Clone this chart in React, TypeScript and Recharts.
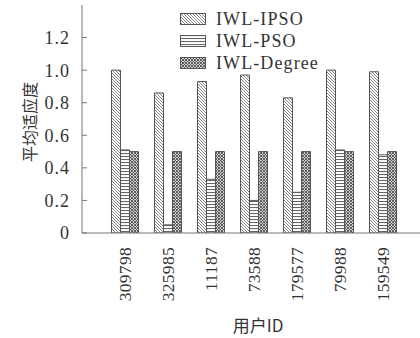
import React from "react";
import { Bar, BarChart, Legend, XAxis, YAxis } from "recharts";

const userIds = ["309798", "325985", "11187", "73588", "179577", "79988", "159549"];
const ipsoValues = [1.0, 0.86, 0.93, 0.97, 0.83, 1.0, 0.99];
const psoValues = [0.51, 0.05, 0.33, 0.2, 0.25, 0.51, 0.48];
const degreeValues = [0.5, 0.5, 0.5, 0.5, 0.5, 0.5, 0.5];
const yTicks = [0, 0.2, 0.4, 0.6, 0.8, 1.0, 1.2];

const seriesNames = ["IWL-IPSO", "IWL-PSO", "IWL-Degree"];
const seriesKeys = ["ipso", "pso", "degree"];
const seriesFills = ["url(#hatchDiag)", "url(#hatchHoriz)", "url(#hatchCross)"];

const data = userIds.map((id, i) => ({
  id,
  ipso: ipsoValues[i],
  pso: psoValues[i],
  degree: degreeValues[i],
}));

const SERIF = "Liberation Serif, serif";
const CJK = "Noto Sans CJK SC, sans-serif";
const AXIS = "#777";
const INK = "#333";

function Patterns() {
  return (
    <defs>
      <pattern id="hatchDiag" patternUnits="userSpaceOnUse" width={3} height={3}>
        <rect width={3} height={3} fill="#fff" />
        <path d="M-1,-1 L4,4 M-1,2 L1,4 M2,-1 L4,1" stroke="#666" strokeWidth={0.8} />
      </pattern>
      <pattern id="hatchHoriz" patternUnits="userSpaceOnUse" width={4} height={3}>
        <rect width={4} height={3} fill="#fff" />
        <line x1={0} y1={0.5} x2={4} y2={0.5} stroke="#666" strokeWidth={1.1} />
      </pattern>
      <pattern id="hatchCross" patternUnits="userSpaceOnUse" width={3} height={3}>
        <rect width={3} height={3} fill="#ccc" />
        <path d="M-1,-1 L4,4 M-1,4 L4,-1" stroke="#555" strokeWidth={0.9} />
      </pattern>
    </defs>
  );
}

function LegendBox() {
  return (
    <div style={{ fontFamily: SERIF, fontSize: 18, color: INK }}>
      {seriesNames.map((name, i) => (
        <div key={name} style={{ display: "flex", alignItems: "center", height: 22 }}>
          <svg width={26} height={12} style={{ marginRight: 10 }}>
            <Patterns />
            <rect x={0.5} y={0.5} width={25} height={11} fill={seriesFills[i]} stroke="#555" />
          </svg>
          <span style={{ letterSpacing: 1.1 }}>{name}</span>
        </div>
      ))}
    </div>
  );
}

function UserTick(props: any) {
  const { x, y, payload } = props;
  return (
    <text
      x={x}
      y={y + 6}
      transform={`rotate(-90, ${x}, ${y + 6})`}
      textAnchor="end"
      dy="0.35em"
      fill={INK}
      style={{ fontFamily: SERIF, fontSize: 17.5, letterSpacing: 0.3 }}
    >
      {payload.value}
    </text>
  );
}

function YLabel(props: any) {
  const { viewBox } = props;
  const cx = viewBox.x + 29;
  const cy = viewBox.y + viewBox.height / 2 + 3;
  return (
    <text
      x={cx}
      y={cy}
      transform={`rotate(-90, ${cx}, ${cy})`}
      textAnchor="middle"
      dominantBaseline="central"
      fill={INK}
      style={{ fontFamily: CJK, fontSize: 16 }}
    >
      平均适应度
    </text>
  );
}

export default function App() {
  return (
    <div
      style={{
        position: "absolute",
        left: 0,
        top: 0,
        width: 420,
        height: 338,
        overflow: "hidden",
        background: "#fff",
      }}
    >
      <BarChart
        width={430}
        height={338}
        data={data}
        margin={{ top: 5, right: 4, bottom: 0, left: 0 }}
        barSize={9}
        barGap={0}
      >
        <Patterns />
        <XAxis
          dataKey="id"
          height={105}
          padding={{ left: 21.5, right: 21.5 }}
          stroke={AXIS}
          tickLine={false}
          tick={<UserTick />}
          interval={0}
          label={{
            value: "用户ID",
            position: "insideBottom",
            offset: 6,
            fill: INK,
            style: { fontFamily: CJK, fontSize: 17 },
            dx: 4,
          }}
        />
        <XAxis
          xAxisId="top"
          dataKey="id"
          orientation="top"
          height={0}
          padding={{ left: 21.5, right: 21.5 }}
          stroke={AXIS}
          tickSize={-5}
          tick={false}
          interval={0}
        />
        <YAxis
          width={82}
          domain={[0, 1.4]}
          ticks={yTicks}
          allowDataOverflow
          stroke={AXIS}
          tickSize={-5}
          tickMargin={17}
          tickFormatter={(v: number) => (v === 0 ? "0" : v.toFixed(1))}
          tick={{ fill: INK, style: { fontFamily: SERIF, fontSize: 18, letterSpacing: 1 } }}
          label={<YLabel />}
        />
        <Legend
          layout="vertical"
          align="center"
          verticalAlign="middle"
          wrapperStyle={{ top: 8, left: 180, width: 200 }}
          content={<LegendBox />}
        />
        {seriesKeys.map((key, i) => (
          <Bar
            key={key}
            dataKey={key}
            name={seriesNames[i]}
            fill={seriesFills[i]}
            stroke="#555"
            strokeWidth={1}
            isAnimationActive={false}
          />
        ))}
      </BarChart>
    </div>
  );
}
